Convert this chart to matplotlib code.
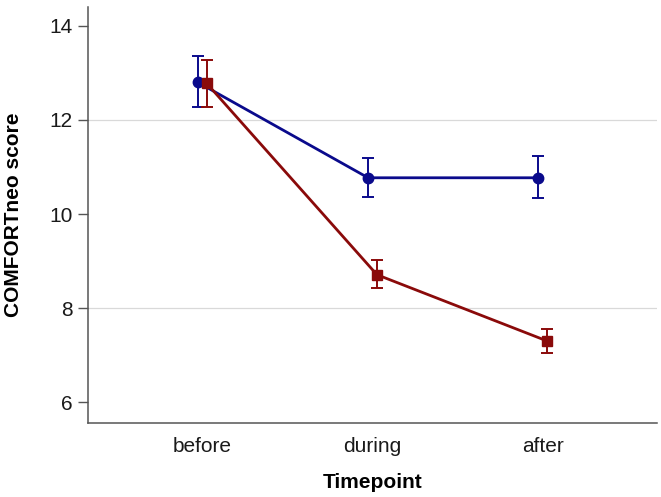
import matplotlib
matplotlib.use("Agg")
import matplotlib.pyplot as plt
import numpy as np

plt.rcParams['font.family'] = ['Liberation Sans', 'DejaVu Sans']

categories = ["before", "during", "after"]
blue_mean = [12.80, 10.77, 10.77]
blue_lo = [12.28, 10.37, 10.33]
blue_hi = [13.35, 11.18, 11.23]
red_mean = [12.78, 8.71, 7.30]
red_lo = [12.28, 8.42, 7.05]
red_hi = [13.27, 9.02, 7.56]

blue_c = "#0a0a8c"
red_c = "#8a0a0a"

fig = plt.figure(figsize=(6.61, 4.97), dpi=100)
ax = fig.add_axes([0.1331, 0.149, 0.8609, 0.837])

x = np.arange(len(categories))
off = 0.026

for mean, lo, hi, col, mk, dx, ms in [
    (blue_mean, blue_lo, blue_hi, blue_c, "o", -off, 7.5),
    (red_mean, red_lo, red_hi, red_c, "s", off, 7),
]:
    mean = np.array(mean); lo = np.array(lo); hi = np.array(hi)
    ax.errorbar(x + dx, mean, yerr=[mean - lo, hi - mean], color=col,
                fmt='none', elinewidth=1.4, capsize=4.2, capthick=1.4, zorder=3)
    ax.plot(x + dx, mean, color=col, linewidth=2.0, marker=mk,
            markersize=ms, zorder=4)

for g in [8, 12]:
    ax.axhline(g, color="#d9d9d9", linewidth=0.9, zorder=1)

ax.set_xlim(-0.67, 2.67)
ax.set_ylim(5.56, 14.40)
ax.set_yticks([6, 8, 10, 12, 14])
ax.set_xticks(x)
ax.set_xticklabels(categories)

for s in ["top", "right"]:
    ax.spines[s].set_visible(False)
for s in ["left", "bottom"]:
    ax.spines[s].set_color("#555555")
    ax.spines[s].set_linewidth(1.1)

ax.tick_params(axis='y', length=7, width=1, color="#555555", labelsize=15,
               labelcolor="#1a1a1a", pad=4)
ax.tick_params(axis='x', length=0, labelsize=15, labelcolor="#1a1a1a", pad=10)

ax.set_xlabel("Timepoint", fontsize=15, fontweight='bold', labelpad=12)
ax.set_ylabel("COMFORTneo score", fontsize=15, fontweight='bold', labelpad=19)

fig.savefig("out.png", dpi=100)
